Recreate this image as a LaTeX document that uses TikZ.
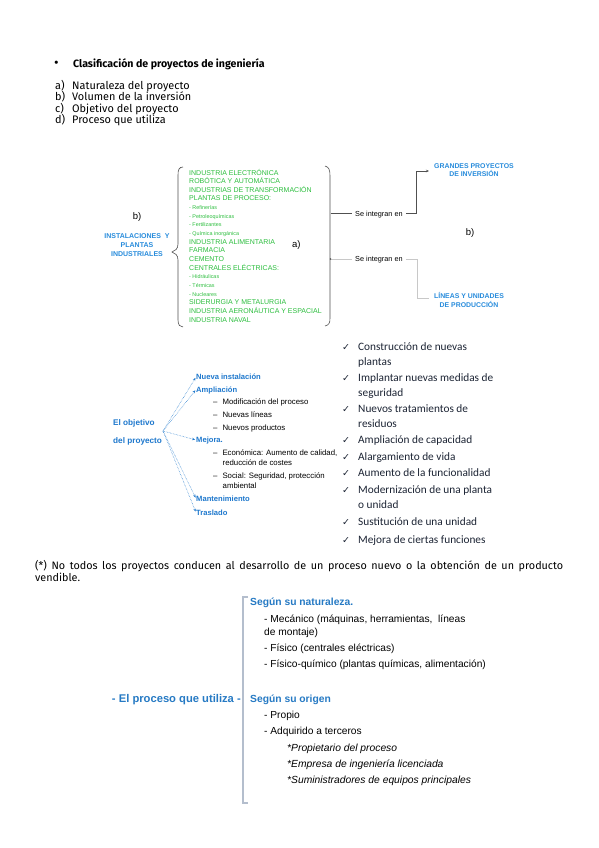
\documentclass[tikz,border=0pt]{standalone}
\usepackage{fontspec}
\setmainfont{Liberation Sans}
\newfontfamily\fira{Fira Sans}
\newfontfamily\carl{Carlito}
\newfontfamily\dejavu{DejaVu Sans}
\usetikzlibrary{arrows.meta,calc}
\definecolor{grn}{RGB}{44,190,62}
\definecolor{blu1}{RGB}{40,140,220}
\definecolor{blu2}{RGB}{30,120,205}
\definecolor{blu3}{RGB}{38,122,196}
\definecolor{ink}{RGB}{28,36,52}
\definecolor{dk}{RGB}{80,80,80}
\definecolor{lg}{RGB}{200,200,200}
\definecolor{brk}{RGB}{180,190,205}
\tikzset{
  txt/.style={inner sep=0pt, anchor=west, text height=0.7em, text depth=0.2em},
  head/.style={txt, font=\fira\fontsize{10.9}{12}\selectfont, text=black},
  grtxt/.style={txt, font=\fontsize{7.0}{8}\selectfont, text=grn},
  grsub/.style={txt, font=\fontsize{5.4}{6}\selectfont, text=grn},
  bcap/.style={inner sep=0pt, align=center, font=\bfseries\fontsize{7.0}{8.8}\selectfont, text=blu1},
  seint/.style={txt, font=\fontsize{7.3}{8}\selectfont, text=black},
  lbl/.style={txt, font=\fontsize{9.5}{10}\selectfont, text=black},
  brc/.style={draw=dk, line width=0.6pt},
  dkline/.style={draw=dk, line width=0.9pt},
  lgline/.style={draw=lg, line width=0.6pt},
  obj/.style={txt, font=\bfseries\fontsize{7.6}{8}\selectfont, text=blu2},
  objs/.style={txt, font=\fontsize{7.8}{8}\selectfont, text=black},
  fanline/.style={draw=blu2, line width=0.5pt, densely dotted, -{Stealth[length=3pt,width=2.5pt]}, shorten >=1pt},
  chk/.style={txt, font=\dejavu\fontsize{9.5}{10}\selectfont, text=ink},
  ctxt/.style={txt, font=\carl\fontsize{11.3}{13}\selectfont, text=ink},
  pb/.style={txt, font=\bfseries\fontsize{10.3}{11}\selectfont, text=blu3},
  pt/.style={txt, font=\fontsize{10.2}{11}\selectfont, text=black},
  pi/.style={txt, font=\itshape\fontsize{10.3}{11}\selectfont, text=black},
}
\begin{document}
\begin{tikzpicture}[x=1pt,y=-1pt]
\useasboundingbox (0,0) rectangle (599,848);
\fill[white] (0,0) rectangle (599,848);

% ---------- header ----------
\node[head, font=\fira\fontsize{14}{14}\selectfont] (bul) at (54,65) {\textbullet};
\node[head, font=\fira\bfseries\fontsize{10.6}{12}\selectfont] (title) at (73,65) {Clasificación de proyectos de ingeniería};
\node[head] (la) at (55,87) {a)};
\node[head] (ta) at (72,87) {Naturaleza del proyecto};
\node[head] (lb) at (55,98.5) {b)};
\node[head] (tb) at (72,98.5) {Volumen de la inversión};
\node[head] (lc) at (55,110) {c)};
\node[head] (tc) at (72,110) {Objetivo del proyecto};
\node[head] (ld) at (55,121.5) {d)};
\node[head] (td) at (72,121.5) {Proceso que utiliza};

% ---------- diagram 1 ----------
\node[lbl, anchor=center] (b1) at (137,217) {b)};
\node[bcap] (inst) at (137,245) {INSTALACIONES\ \ Y\\PLANTAS\\INDUSTRIALES};
\draw[brc] (183,167) .. controls (179,167) and (178,170) .. (178,175) -- (178,244)
  .. controls (178,249) and (175,251) .. (172,252)
  .. controls (175,253) and (178,255) .. (178,260) -- (178,320)
  .. controls (178,325) and (180,327) .. (183,327);
\draw[brc] (325,166) .. controls (329,167) and (330,170) .. (330,176) -- (330,318)
  .. controls (330,323) and (329,325) .. (325,326);

\node[grtxt] (g1) at (189,172.5) {INDUSTRIA ELECTRÓNICA};
\node[grtxt] (g2) at (189,181.1) {ROBÓTICA Y AUTOMÁTICA};
\node[grtxt] (g3) at (189,189.8) {INDUSTRIAS DE TRANSFORMACIÓN};
\node[grtxt] (g4) at (189,198.4) {PLANTAS DE PROCESO:};
\node[grsub] (g5) at (189,207.1) {- Refinerías};
\node[grsub] (g6) at (189,215.7) {- Petroleoquímicas};
\node[grsub] (g7) at (189,224.4) {- Fertilizantes};
\node[grsub] (g8) at (189,233.0) {- Química inorgánica};
\node[grtxt] (g9) at (189,241.7) {INDUSTRIA ALIMENTARIA};
\node[grtxt] (g10) at (189,250.3) {FARMACIA};
\node[grtxt] (g11) at (189,259.0) {CEMENTO};
\node[grtxt] (g12) at (189,267.6) {CENTRALES ELÉCTRICAS:};
\node[grsub] (g13) at (189,276.3) {- Hidráulicas};
\node[grsub] (g14) at (189,284.9) {- Térmicas};
\node[grsub] (g15) at (189,293.6) {- Nucleares};
\node[grtxt] (g16) at (189,302.2) {SIDERURGIA Y METALURGIA};
\node[grtxt] (g17) at (189,310.9) {INDUSTRIA AERONÁUTICA Y ESPACIAL};
\node[grtxt] (g18) at (189,319.5) {INDUSTRIA NAVAL};
\node[lbl] (a1) at (292,245) {a)};

\coordinate (r1) at (330.5,213.5);
\coordinate (r2) at (330.5,259);
\node[seint] (s1) at (355,213.5) {Se integran en};
\node[seint] (s2) at (355,259) {Se integran en};
\node[bcap, font=\bfseries\fontsize{6.9}{8.5}\selectfont] (gp) at (474,170) {GRANDES PROYECTOS\\DE INVERSIÓN};
\node[bcap, font=\bfseries\fontsize{6.9}{9}\selectfont] (lu) at (469,299.5) {LÍNEAS Y UNIDADES\\DE PRODUCCIÓN};
\coordinate (gpin) at (429,171);
\coordinate (luin) at (429,298);
\node[lbl, anchor=center] (b2) at (470,233) {b)};
\draw[dkline] (r1) -- ($(s1.west)+(-3,0)$);
\draw[dkline, -{Stealth[length=3pt,width=2.5pt]}] ($(s1.east)+(3,0)$) -- ++(11,0) |- (gpin);
\draw[lgline] (r2) -- ($(s2.west)+(-3,0)$);
\draw[lgline] ($(s2.east)+(3,0)$) -- ++(11,0) |- (luin);
\fill[dk] (r2) circle (0.8pt);

% ---------- diagram 2: objetivo ----------
\node[obj, font=\bfseries\fontsize{8.2}{9}\selectfont] (eo1) at (113,423) {El objetivo};
\node[obj, font=\bfseries\fontsize{8.2}{9}\selectfont] (eo2) at (113,441) {del proyecto};
\coordinate (fan) at (163,431);
\node[obj] (nueva) at (196,377) {Nueva instalación};
\node[obj] (ampl) at (196,389.5) {Ampliación};
\node[objs] (m1) at (213,402) {–\hspace{5pt}Modificación del proceso};
\node[objs] (m2) at (213,415) {–\hspace{5pt}Nuevas líneas};
\node[objs] (m3) at (213,428) {–\hspace{5pt}Nuevos productos};
\node[obj] (mej) at (196,440) {Mejora.};
\node[objs] (e1) at (213,453) {–\hspace{5pt}Económica: Aumento de calidad,};
\node[objs] (e2) at (222.5,463) {reducción de costes};
\node[objs] (e3) at (213,476) {–\hspace{5pt}Social: Seguridad, protección};
\node[objs] (e4) at (222.5,486) {ambiental};
\node[obj] (mant) at (196,498.5) {Mantenimiento};
\node[obj] (tras) at (196,512.5) {Traslado};
\draw[fanline] (fan) -- (nueva.west);
\draw[fanline] (fan) -- (ampl.west);
\draw[fanline] (fan) -- (mej.west);
\draw[fanline] (fan) -- (mant.west);
\draw[fanline] (fan) -- (tras.west);

% ---------- checklist ----------
\node[chk] (c1) at (342,348) {✓};
\node[ctxt] (k1) at (358,348) {Construcción de nuevas};
\node[ctxt] (k1b) at (358,363) {plantas};
\node[chk] (c2) at (342,379) {✓};
\node[ctxt] (k2) at (358,379) {Implantar nuevas medidas de};
\node[ctxt] (k2b) at (358,394) {seguridad};
\node[chk] (c3) at (342,410) {✓};
\node[ctxt] (k3) at (358,410) {Nuevos tratamientos de};
\node[ctxt] (k3b) at (358,425) {residuos};
\node[chk] (c4) at (342,441) {✓};
\node[ctxt] (k4) at (358,441) {Ampliación de capacidad};
\node[chk] (c5) at (342,457.5) {✓};
\node[ctxt] (k5) at (358,457.5) {Alargamiento de vida};
\node[chk] (c6) at (342,474) {✓};
\node[ctxt] (k6) at (358,474) {Aumento de la funcionalidad};
\node[chk] (c7) at (342,491) {✓};
\node[ctxt] (k7) at (358,491) {Modernización de una planta};
\node[ctxt] (k7b) at (358,506) {o unidad};
\node[chk] (c8) at (342,523) {✓};
\node[ctxt] (k8) at (358,523) {Sustitución de una unidad};
\node[chk] (c9) at (342,541) {✓};
\node[ctxt] (k9) at (358,541) {Mejora de ciertas funciones};

% ---------- footnote ----------
\node[inner sep=0pt, anchor=north west, text width=528pt, align=justify,
  font=\fira\fontsize{10.8}{12}\selectfont] (foot) at (35,560)
  {(*) No todos los proyectos conducen al desarrollo de un proceso nuevo o la obtención de un producto\linebreak vendible.};

% ---------- diagram 3 ----------
\draw[draw=brk, line width=1.2pt] (248,597) -- (243,597) -- (243,803) -- (248,803);
\node[pb, font=\bfseries\fontsize{11.2}{12}\selectfont, anchor=east] (proc) at (241,700) {- El proceso que utiliza -};
\node[pb] (nat) at (250,603) {Según su naturaleza.};
\node[pt] (n1) at (264,620) {- Mecánico (máquinas, herramientas,\ \ líneas};
\node[pt] (n1b) at (264,633) {de montaje)};
\node[pt] (n2) at (264,648.5) {- Físico (centrales eléctricas)};
\node[pt] (n3) at (264,665) {- Físico-químico (plantas químicas, alimentación)};
\node[pb] (ori) at (250,700) {Según su origen};
\node[pt] (o1) at (264,716) {- Propio};
\node[pt] (o2) at (264,732) {- Adquirido a terceros};
\node[pi] (o3) at (287,748.5) {*Propietario del proceso};
\node[pi] (o4) at (287,764.5) {*Empresa de ingeniería licenciada};
\node[pi] (o5) at (287,781) {*Suministradores de equipos principales};
\end{tikzpicture}
\end{document}
